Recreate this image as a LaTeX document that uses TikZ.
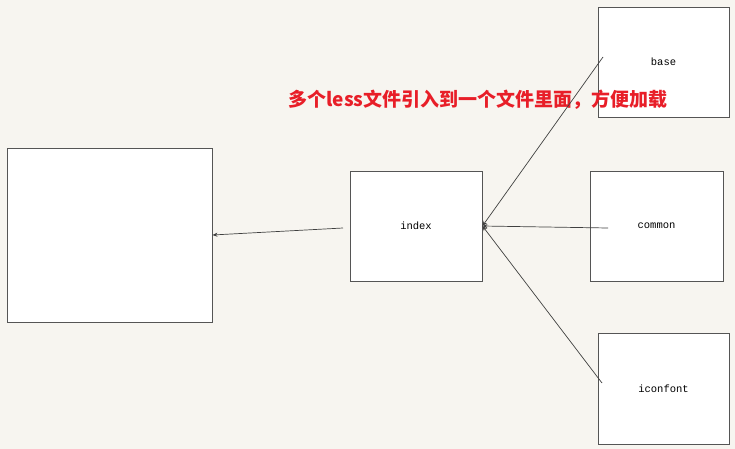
\documentclass[tikz,border=0pt]{standalone}
\usepackage{fontspec}
\setmonofont{Liberation Mono}
\newfontfamily\cjk{Noto Sans CJK SC}
\usetikzlibrary{arrows.meta}

\definecolor{paper}{RGB}{247,245,240}
\definecolor{edge}{RGB}{85,85,85}
\definecolor{note}{RGB}{232,30,40}

\tikzset{
  file/.style={draw=edge, fill=white, line width=0.9pt, inner sep=0pt,
    font=\ttfamily\fontsize{10.5}{12}\selectfont},
  link/.style={draw=black!75, line width=0.7pt, -{Stealth[length=5pt,width=4pt]}},
}

\begin{document}
\begin{tikzpicture}[x=1pt, y=-1pt]

  \fill[paper] (0,0) rectangle (735,449);
  \useasboundingbox (0,0) rectangle (735,449);

  % Define nodes
  \node[file, minimum width=205pt, minimum height=174pt] (page) at (109.5,235) {};
  \node[file, minimum width=132pt, minimum height=110pt] (index) at (416,226) {index};
  \node[file, minimum width=131pt, minimum height=110pt] (base) at (663.5,62) {base};
  \node[file, minimum width=133pt, minimum height=110pt] (common) at (656.5,226) {common};
  \node[file, minimum width=131pt, minimum height=111pt] (iconfont) at (663.5,388.5) {iconfont};

  \node[text=note, font=\cjk\bfseries\fontsize{19}{22}\selectfont] (tip) at (478,100)
    {多个less文件引入到一个文件里面，方便加载};

  % free ends inside the boxes
  \coordinate (indexout) at (343,228);
  \coordinate (basein) at (603,57);
  \coordinate (commonin) at (608,228);
  \coordinate (iconin) at (602,383);

  % Connect the nodes
  \draw[link] (indexout) -- (page.east);
  \draw[link] (basein) -- (index.east);
  \draw[link] (commonin) -- (index.east);
  \draw[link] (iconin) -- (index.east);

\end{tikzpicture}
\end{document}
